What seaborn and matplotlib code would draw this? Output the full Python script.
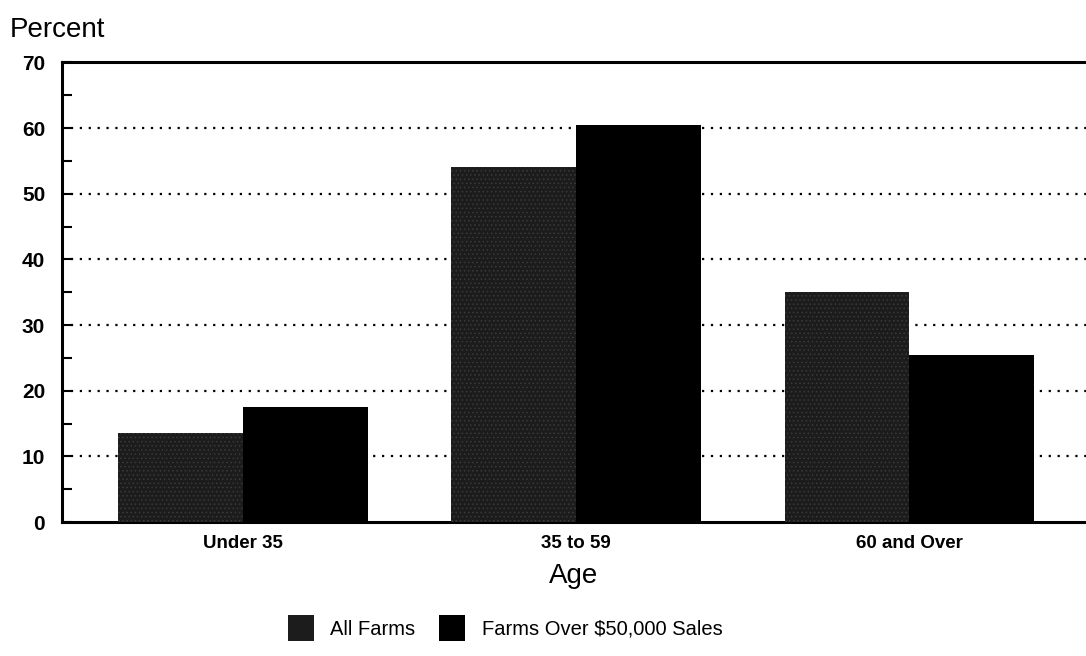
import matplotlib
matplotlib.use("Agg")
import matplotlib.pyplot as plt
import numpy as np
import pandas as pd
import seaborn as sns

age_groups = ["Under 35", "35 to 59", "60 and Over"]
all_farms = [13.5, 54.0, 35.0]
farms_over_50k = [17.5, 60.5, 25.5]
series_names = ["All Farms", "Farms Over $50,000 Sales"]
y_ticks = [0, 10, 20, 30, 40, 50, 60, 70]

df = pd.DataFrame({
    "age": age_groups * 2,
    "percent": all_farms + farms_over_50k,
    "series": [series_names[0]] * 3 + [series_names[1]] * 3,
})

sns.set_theme(style="white")
plt.rcParams["font.family"] = ["Liberation Sans", "DejaVu Sans"]
plt.rcParams["text.color"] = "black"
plt.rcParams["axes.labelcolor"] = "black"
plt.rcParams["xtick.color"] = "black"
plt.rcParams["ytick.color"] = "black"
plt.rcParams["hatch.linewidth"] = 0.6

fig = plt.figure(figsize=(10.86, 6.56), dpi=100)
ax = fig.add_axes([0.057, 0.204, 0.943, 0.701])

palette = {series_names[0]: "#1c1c1c", series_names[1]: "#000000"}
sns.barplot(data=df, x="age", y="percent", hue="series", order=age_groups,
            hue_order=series_names, palette=palette, width=0.75, gap=0,
            saturation=1, ax=ax, legend=True, zorder=3, linewidth=0)

# faint speckle texture on the "All Farms" bars, like the scanned screen tone
for bar in ax.patches[:3]:
    bar.set_hatch("....")
    bar.set_edgecolor("#3a3a3a")
    bar.set_linewidth(0)
for bar in ax.patches[3:6]:
    bar.set_edgecolor("black")
    bar.set_linewidth(0)

ax.set_ylim(0, 70)
ax.set_xlim(-0.544, 2.53)
ax.set_yticks(y_ticks)
ax.set_yticks(np.arange(5, 70, 10), minor=True)
ax.set_yticklabels([str(t) for t in y_ticks], fontsize=15, fontweight="bold")
ax.tick_params(axis="y", which="both", direction="in", length=7, width=1.5,
               color="black", left=True, pad=12)
ax.tick_params(axis="x", length=0, pad=9, labelsize=13.5)
for lbl in ax.get_xticklabels():
    lbl.set_fontweight("bold")

for t in y_ticks[1:-1]:
    ax.axhline(t, color="black", linestyle=(0, (1, 3)), linewidth=1.6, zorder=1)

for side in ["left", "top", "bottom"]:
    ax.spines[side].set_visible(True)
    ax.spines[side].set_color("black")
    ax.spines[side].set_linewidth(2.2)
ax.spines["right"].set_visible(False)

ax.set_xlabel("Age", fontsize=20, labelpad=8)
ax.set_ylabel("")
fig.text(0.009, 0.935, "Percent", fontsize=20, ha="left", va="bottom")

handles, labels = ax.get_legend_handles_labels()
ax.legend_.remove()
fig.legend(handles, labels, loc="lower center", bbox_to_anchor=(0.465, -0.005),
           ncol=2, frameon=False, fontsize=14.5, handlelength=1.3,
           handleheight=1.6, columnspacing=1.2, handletextpad=0.8)

fig.savefig("out.png", dpi=100)
